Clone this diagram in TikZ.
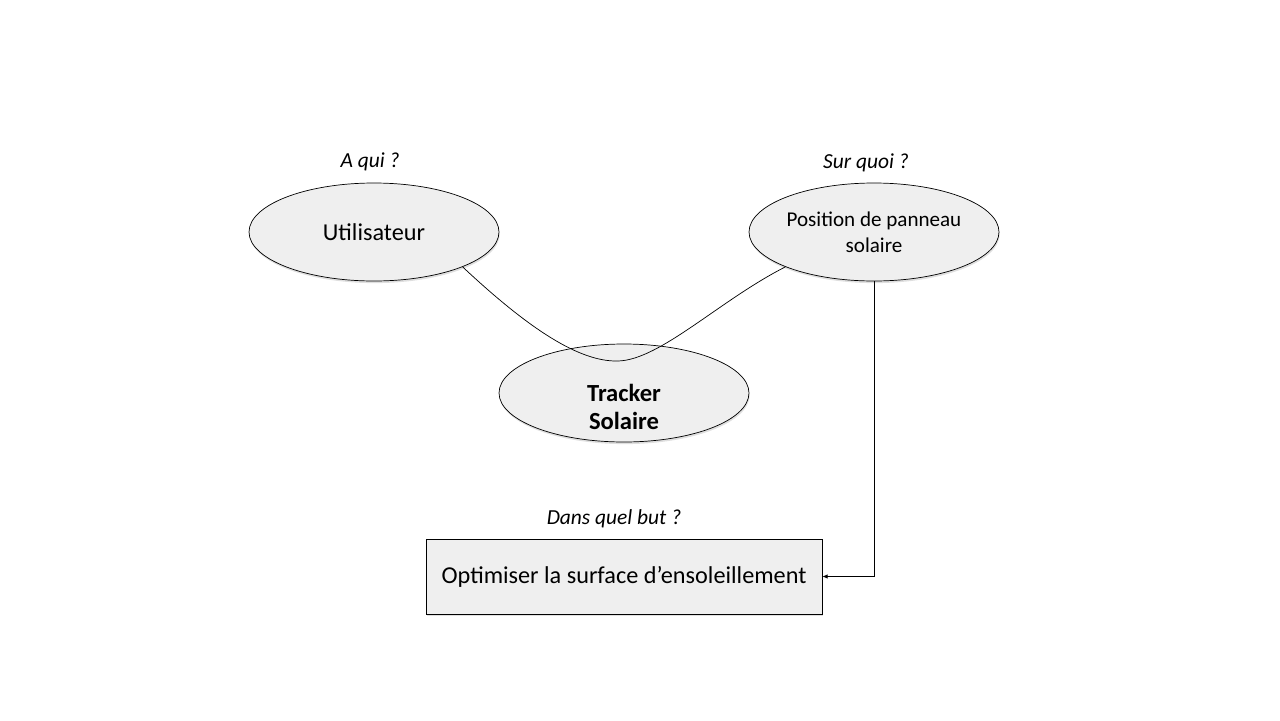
\documentclass[tikz,border=0pt]{standalone}
\usepackage{fontspec}
\setmainfont{Carlito}
\usetikzlibrary{shapes.geometric,shadows,arrows.meta}

\definecolor{fondgris}{HTML}{EFEFEF}

\tikzset{
	bulle/.style={ellipse,draw,fill=fondgris,inner sep=0pt,minimum width=5cm,minimum height=1.96cm,
		align=center,drop shadow={opacity=0.25,shadow xshift=0.4pt,shadow yshift=-1.2pt}},
	question/.style={font=\itshape\fontsize{12.2}{14}\selectfont}
}

\begin{document}
\begin{tikzpicture}[x=0.02cm,y=-0.02cm]
		\useasboundingbox (0,0) rectangle (1280,720);
		% les trois bulles
		\node[bulle,font=\fontsize{13.8}{16}\selectfont] (u) at (374,232) {Utilisateur};
		\node[bulle,font=\fontsize{12}{14.7}\selectfont] (p) at (874,232) {Position de panneau\\solaire};
		\node[bulle] (t) at (624,393) {};
		\node[align=center,font=\bfseries\fontsize{14}{16.4}\selectfont] (tt) at (624,407) {Tracker\\Solaire};
		\node[draw,fill=fondgris,minimum width=7.92cm,minimum height=1.5cm,font=\fontsize{13.8}{16}\selectfont,
			drop shadow={opacity=0.25,shadow xshift=0.4pt,shadow yshift=-1.2pt}] (r) at (624,576.5) {Optimiser la surface d’ensoleillement};
		% questions
		\node[question] (qa) at (370,162) {A qui ?};
		\node[question] (qb) at (866,163) {Sur quoi ?};
		\node[question] (qc) at (614,519) {Dans quel but ?};
		% liaisons
		\coordinate (bas) at (618,361);
		\draw (u.south east) .. controls (530,330) and (580,362) .. (bas)
			.. controls (660,360) and (720,300) .. (p.south west);
		\draw[-{Latex[length=3pt,width=2.5pt]}] (p.south) |- (r.east);
	\end{tikzpicture}
\end{document}
